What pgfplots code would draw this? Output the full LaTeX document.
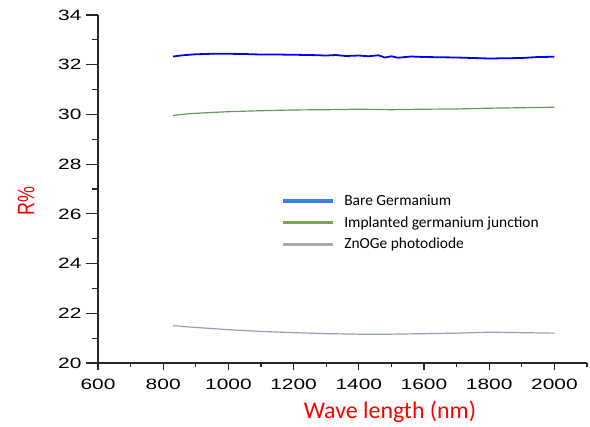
\documentclass[border=0pt]{standalone}
\usepackage{fontspec}
\setmainfont{Liberation Sans}
\newfontfamily\tickfont[FakeStretch=1.4]{Liberation Sans}
\newfontfamily\rfont[FakeStretch=0.75]{Liberation Sans}
\newfontfamily\calfont{Carlito}
\usepackage{pgfplots}
\pgfplotsset{compat=1.18}

\definecolor{bareline}{RGB}{0,0,250}
\definecolor{implline}{RGB}{95,160,85}
\definecolor{znoline}{RGB}{150,160,180}
\definecolor{barelegend}{RGB}{60,125,245}
\definecolor{impllegend}{RGB}{112,173,71}
\definecolor{znolegend}{RGB}{170,170,170}

\begin{document}
\begin{tikzpicture}
\begin{axis}[
    name=ax,
    scale only axis,
    width=489bp, height=348bp,
    xmin=600, xmax=2100,
    ymin=20, ymax=34,
    axis lines=left,
    axis line style={-, line width=1.2pt, color=black!85},
    xtick={600,800,...,2000},
    ytick={20,22,...,34},
    minor xtick={700,900,...,2100},
    minor ytick={21,23,...,33},
    tick align=outside,
    major tick length=12bp,
    minor tick length=6bp,
    xtick style={line width=1.2pt, black!85, /pgfplots/major tick length=7bp, /pgfplots/minor tick length=4bp},
    ytick style={line width=1.2pt, black!85},
    /pgf/number format/assume math mode=true,
    xticklabel style={font=\tickfont\fontsize{15}{15}\selectfont, yshift=-1bp},
    yticklabel style={font=\tickfont\fontsize{15}{15}\selectfont, xshift=-1bp},
    /pgf/number format/1000 sep={},
    xlabel={Wave length (nm)},
    xlabel style={font=\calfont\fontsize{24}{24}\selectfont, text=red, at={(axis description cs:0.597,0)}, anchor=north, yshift=-34bp},
    ylabel={R\%},
    ylabel style={font=\rfont\fontsize{24}{24}\selectfont, text=red, at={(axis description cs:0,0.465)}, anchor=south, yshift=60bp},
    legend style={draw=none, fill=none, at={(axis description cs:0.368,0.495)}, anchor=north west,
        font=\calfont\fontsize{15.5}{18}\selectfont, cells={anchor=west}, row sep=5.5bp},
    legend image code/.code={\draw[#1] (0bp,0bp) -- (50bp,0bp); \path (58bp,0bp);},
]
\addlegendimage{barelegend, line width=3.2pt}
\addlegendentry{Bare Germanium}
\addlegendimage{impllegend, line width=3.2pt}
\addlegendentry{Implanted germanium junction}
\addlegendimage{znolegend, line width=3.2pt}
\addlegendentry{ZnOGe photodiode}

\addplot[bareline, line width=1.8pt, forget plot] coordinates {
(830,32.33)(860,32.38)(900,32.42)(950,32.44)(1000,32.44)(1050,32.43)(1100,32.41)
(1150,32.41)(1200,32.40)(1250,32.39)(1300,32.37)(1330,32.39)(1360,32.35)(1400,32.37)
(1430,32.34)(1460,32.38)(1480,32.29)(1500,32.34)(1520,32.28)(1560,32.33)(1600,32.31)
(1650,32.30)(1700,32.29)(1750,32.27)(1800,32.25)(1850,32.26)(1900,32.27)(1950,32.31)(2000,32.32)
};
\addplot[implline, line width=1.2pt, forget plot] coordinates {
(830,29.96)(880,30.03)(950,30.08)(1000,30.11)(1100,30.15)(1200,30.18)(1300,30.19)
(1400,30.21)(1450,30.20)(1500,30.19)(1600,30.21)(1700,30.22)(1800,30.25)(1900,30.27)(2000,30.29)
};
\addplot[znoline, line width=1.2pt, forget plot] coordinates {
(830,21.50)(900,21.43)(1000,21.34)(1100,21.27)(1200,21.22)(1300,21.18)(1400,21.16)
(1500,21.16)(1600,21.18)(1700,21.20)(1800,21.24)(1900,21.22)(2000,21.20)
};
\end{axis}
\pgfresetboundingbox
\path (ax.south west) ++(-98bp,-64bp) coordinate (bl);
\path (ax.north east) ++(3bp,15bp) coordinate (tr);
\path[use as bounding box] (bl) rectangle (tr);
\end{tikzpicture}
\end{document}
